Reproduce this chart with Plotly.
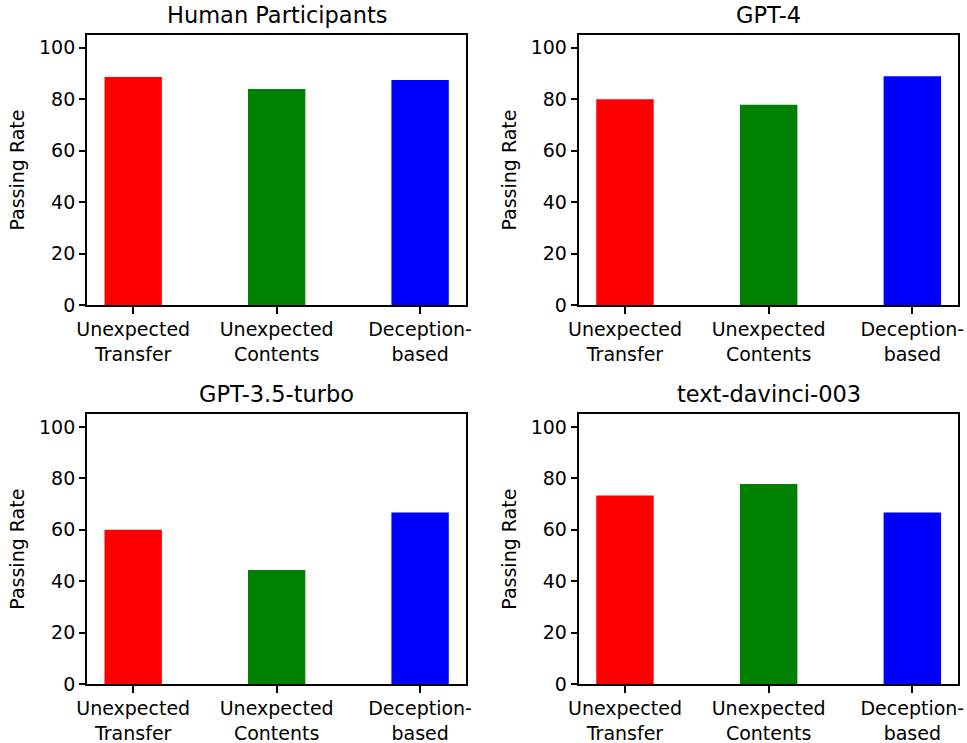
import plotly.graph_objects as go

categories = ["Unexpected<br>Transfer", "Unexpected<br>Contents", "Deception-<br>based"]
panel_titles = ["Human Participants", "GPT-4", "GPT-3.5-turbo", "text-davinci-003"]
human_vals = [88.6, 83.9, 87.4]
gpt4_vals = [80.0, 77.8, 88.9]
gpt35_vals = [60.0, 44.4, 66.7]
davinci_vals = [73.3, 77.8, 66.7]
bar_colors = ["red", "green", "blue"]
ytick_vals = [0, 20, 40, 60, 80, 100]

W, H = 967, 743
# axes pixel boxes (left, right, top, bottom)
boxes = [
    (87.3, 466.0, 34.7, 305.3),
    (579.0, 958.3, 34.7, 305.3),
    (87.3, 466.0, 414.0, 684.3),
    (579.0, 958.3, 414.0, 684.3),
]
series = [human_vals, gpt4_vals, gpt35_vals, davinci_vals]

FONT = "DejaVu Sans"
fig = go.Figure()
layout = dict(
    width=W, height=H,
    margin=dict(l=0, r=0, t=0, b=0),
    paper_bgcolor="white", plot_bgcolor="white",
    showlegend=False,
    font=dict(family=FONT, color="black", size=19),
    annotations=[],
)

for i, (vals, box, title) in enumerate(zip(series, boxes, panel_titles)):
    n = "" if i == 0 else str(i + 1)
    l, r, t, b = box
    fig.add_trace(go.Bar(
        x=list(range(len(categories))), y=vals, width=0.4,
        marker=dict(color=bar_colors, line=dict(width=0)),
        xaxis="x" + n, yaxis="y" + n,
    ))
    layout["xaxis" + n] = dict(
        domain=[l / W, r / W], anchor="y" + n,
        range=[-0.32, 2.32], tickmode="array",
        tickvals=list(range(len(categories))), ticktext=categories,
        showline=True, mirror=True, linecolor="black", linewidth=1.5,
        ticks="outside", ticklen=6.5, tickwidth=1.5, tickcolor="black",
        showgrid=False, zeroline=False, automargin=False,
        tickfont=dict(family=FONT, size=19, color="black"),
    )
    layout["yaxis" + n] = dict(
        domain=[1 - b / H, 1 - t / H], anchor="x" + n,
        range=[0, 105], tickmode="array", tickvals=ytick_vals,
        showline=True, mirror=True, linecolor="black", linewidth=1.5,
        ticks="outside", ticklen=6.5, tickwidth=1.5, tickcolor="black",
        showgrid=False, zeroline=False, automargin=False,
        tickfont=dict(family=FONT, size=19, color="black"),
        title=dict(text="Passing Rate", standoff=9,
                   font=dict(family=FONT, size=19, color="black")),
    )
    layout["annotations"].append(dict(
        text=title, xref="paper", yref="paper",
        x=(l + r) / 2 / W, y=1 - t / H, xanchor="center", yanchor="bottom",
        yshift=5, showarrow=False,
        font=dict(family=FONT, size=22.5, color="black"),
    ))

fig.update_layout(**layout)
fig.write_html("out.html")
